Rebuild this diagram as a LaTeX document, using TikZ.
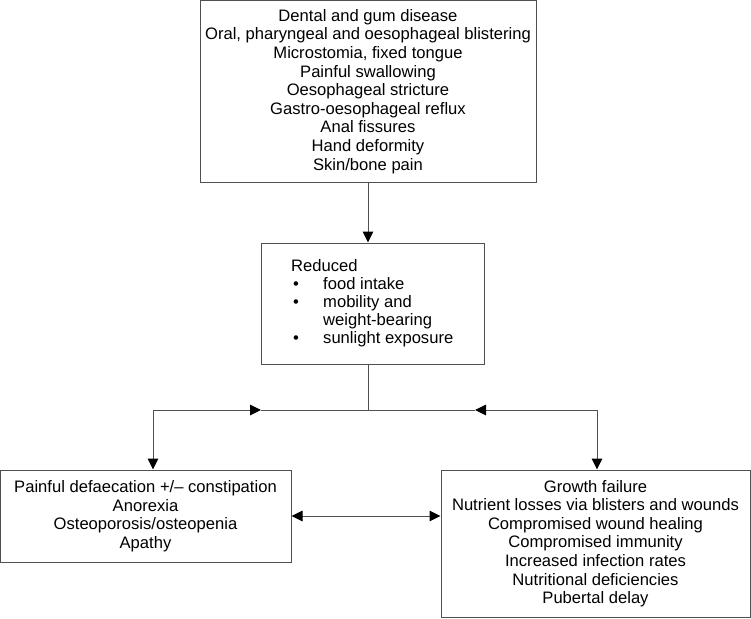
\documentclass[tikz,border=0pt]{standalone}
\usepackage{fontspec}
\setmainfont{Liberation Sans}
\usetikzlibrary{arrows.meta}
\definecolor{linec}{HTML}{505050}
\newcommand\myfs{\fontsize{16.6}{18.6}\selectfont}
\begin{document}
\begin{tikzpicture}[x=1pt,y=-1pt,
  box/.style={draw=linec, line width=1pt, inner sep=0pt, font=\myfs, align=center},
  conn/.style={draw=linec, line width=1pt},
  tip/.style={-{Triangle[length=11pt,width=10.5pt,color=black]}},
  tipboth/.style={{Triangle[length=11pt,width=10.5pt,color=black]}-{Triangle[length=11pt,width=10.5pt,color=black]}}]
\useasboundingbox (0,0) rectangle (751,618);
\node[box, minimum width=336pt, minimum height=181pt] (top) at (368,91.5)
  {Dental and gum disease\\Oral, pharyngeal and oesophageal blistering\\Microstomia, fixed tongue\\Painful swallowing\\Oesophageal stricture\\Gastro-oesophageal reflux\\Anal fissures\\Hand deformity\\Skin/bone pain};
\node[box, minimum width=223pt, minimum height=121pt] (mid) at (372.5,303.5) {};
\node[anchor=west, inner sep=0pt, font=\fontsize{16.6}{18}\selectfont, align=left] (midtext) at (291,304)
  {\begin{tabular}{@{}p{32pt}@{}l@{}}
   \multicolumn{2}{@{}l@{}}{Reduced}\\
   \hspace{2pt}\textbullet & food intake\\
   \hspace{2pt}\textbullet & mobility and\\
    & weight-bearing\\
   \hspace{2pt}\textbullet & sunlight exposure
   \end{tabular}};
\node[box, minimum width=291pt, minimum height=92pt] (left) at (145.5,516)
  {Painful defaecation +/\textendash{} constipation\\Anorexia\\Osteoporosis/osteopenia\\Apathy};
\node[box, minimum width=309pt, minimum height=147pt] (right) at (595.5,543.5)
  {Growth failure\\Nutrient losses via blisters and wounds\\Compromised wound healing\\Compromised immunity\\Increased infection rates\\Nutritional deficiencies\\Pubertal delay};
\coordinate (split) at (368,410);
\coordinate (lc) at (153,410);
\coordinate (ml) at (261,410);
\coordinate (rc) at (597,410);
\coordinate (mr) at (475,410);
\draw[conn, tip] (top.south) -- (top.south |- mid.north);
\draw[conn] (split |- mid.south) -- (split);
\draw[conn] (split) -- (ml);
\draw[conn, tip] (lc) -- (ml);
\draw[conn, tip] (lc) -- (lc |- left.north);
\draw[conn] (split) -- (mr);
\draw[conn, tip] (rc) -- (mr);
\draw[conn, tip] (rc) -- (rc |- right.north);
\draw[conn, tipboth] (left.east) -- (left.east -| right.west);
\end{tikzpicture}
\end{document}
